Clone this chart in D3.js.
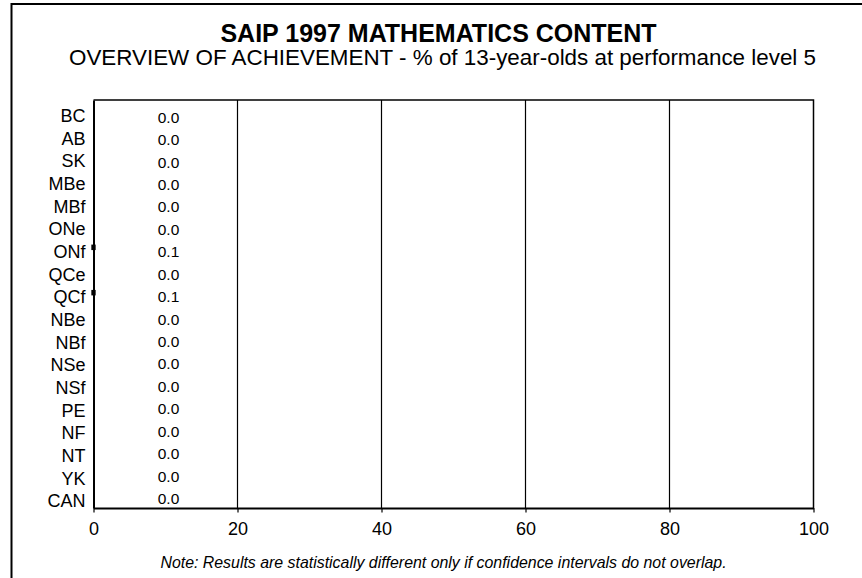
<!DOCTYPE html>
<html>
<head>
<meta charset="utf-8">
<script src="https://cdn.jsdelivr.net/npm/d3@7/dist/d3.min.js"></script>
<style>
  html, body { margin: 0; padding: 0; background: #fff; }
  svg { display: block; font-family: "Liberation Sans", Arial, sans-serif; }
</style>
</head>
<body>
<svg id="chart" width="862" height="578"></svg>
<script>
// ---- data ----
const categories = ["BC","AB","SK","MBe","MBf","ONe","ONf","QCe","QCf","NBe","NBf","NSe","NSf","PE","NF","NT","YK","CAN"];
const values     = [0.0,0.0,0.0,0.0,0.0,0.0,0.1,0.0,0.1,0.0,0.0,0.0,0.0,0.0,0.0,0.0,0.0,0.0];
const ciLow      = [0,0,0,0,0,0,-0.3,0,-0.3,0,0,0,0,0,0,0,0,0];
const ciHigh     = [0,0,0,0,0,0,0.3,0,0.3,0,0,0,0,0,0,0,0,0];
const xTicks     = [0,20,40,60,80,100];
const titleText  = "SAIP 1997 MATHEMATICS CONTENT";
const subtitleText = "OVERVIEW OF ACHIEVEMENT - % of 13-year-olds at performance level 5";
const noteText   = "Note: Results are statistically different only if confidence intervals do not overlap.";

// ---- layout ----
const W = 862, H = 578;
const plot = { left: 93.5, right: 813.5, top: 100, bottom: 508 };
const svg = d3.select("#chart");

// outer frame (left and top edges)
svg.append("path")
  .attr("d", `M11.5,${H} V4 H${W}`)
  .attr("fill", "none").attr("stroke", "#000").attr("stroke-width", 2);

// titles
svg.append("text").attr("x", 438.5).attr("y", 42).attr("text-anchor", "middle")
  .attr("font-size", 25).attr("font-weight", "bold").text(titleText);
svg.append("text").attr("x", 442.5).attr("y", 65).attr("text-anchor", "middle")
  .attr("font-size", 22.4).text(subtitleText);

const x = d3.scaleLinear().domain([0, 100]).range([plot.left, plot.right]);
const y = d3.scaleBand().domain(categories).range([plot.top, plot.bottom]).padding(0);
// baselines of the data labels
const yLabel = d3.scalePoint().domain(categories).range([plot.top + 22.7, plot.bottom - 4]);

// gridlines
svg.append("g").selectAll("line").data(xTicks.filter(t => t > 0 && t < 100)).join("line")
  .attr("x1", d => x(d)).attr("x2", d => x(d))
  .attr("y1", plot.top).attr("y2", plot.bottom)
  .attr("stroke", "#000").attr("stroke-width", 1.2);

// plot border top and right
svg.append("path")
  .attr("d", `M${x(0)},${plot.top} H${x(100)} V${plot.bottom}`)
  .attr("fill", "none").attr("stroke", "#000").attr("stroke-width", 1.5);

// bars
svg.append("g").selectAll("rect").data(categories).join("rect")
  .attr("x", x(0))
  .attr("y", (d, i) => y(d) + y.bandwidth() / 2 - 2.75)
  .attr("width", (d, i) => x(values[i]) - x(0))
  .attr("height", 5.5)
  .attr("fill", "#000");

// confidence interval markers
svg.append("g").selectAll("rect").data(categories).join("rect")
  .attr("x", (d, i) => x(ciLow[i]))
  .attr("y", (d, i) => y(d) + y.bandwidth() / 2 - 2.75)
  .attr("width", (d, i) => x(ciHigh[i]) - x(ciLow[i]))
  .attr("height", 5.5)
  .attr("fill", "#000");

// bottom axis
const xAxis = svg.append("g").attr("transform", `translate(0,${plot.bottom})`)
  .call(d3.axisBottom(x).tickValues(xTicks).tickSize(4.5).tickSizeOuter(0).tickPadding(10).tickFormat(d3.format("d")));
xAxis.select(".domain").attr("stroke", "#000").attr("stroke-width", 2);
xAxis.selectAll(".tick line").attr("stroke", "#000").attr("stroke-width", 1.2);
xAxis.selectAll(".tick text").attr("font-size", 18).attr("font-family", "Liberation Sans, Arial, sans-serif").attr("fill", "#000");

// left axis
const yAxis = svg.append("g").attr("transform", `translate(${plot.left},0)`)
  .call(d3.axisLeft(y).tickSize(0).tickSizeOuter(0).tickPadding(8));
yAxis.select(".domain").attr("stroke", "#000").attr("stroke-width", 2);
yAxis.selectAll(".tick text").attr("font-size", 18).attr("font-family", "Liberation Sans, Arial, sans-serif")
  .attr("fill", "#000").attr("dy", null).attr("y", 10.6);

// value labels
svg.append("g").selectAll("text").data(categories).join("text")
  .attr("x", x(0) + 75)
  .attr("y", d => yLabel(d))
  .attr("text-anchor", "middle")
  .attr("font-size", 15.5)
  .text((d, i) => d3.format(".1f")(values[i]));

// note
svg.append("text").attr("x", 443.5).attr("y", 568).attr("text-anchor", "middle")
  .attr("font-size", 15.9).attr("font-style", "italic").text(noteText);
</script>
</body>
</html>
